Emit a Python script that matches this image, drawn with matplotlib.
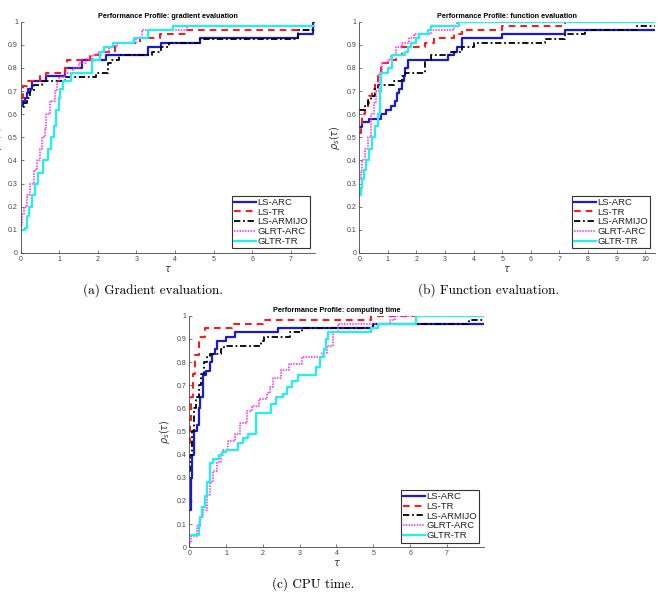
import matplotlib
matplotlib.use("Agg")
import matplotlib.pyplot as plt

# legend names
solvers = ["LS-ARC", "LS-TR", "LS-ARMIJO", "GLRT-ARC", "GLTR-TR"]

# (a) gradient evaluation
grad_tau_lsarc = [0, 0.05, 0.1, 0.15, 0.2, 0.3, 0.65, 1.15, 1.6, 2.2, 3.3, 3.65, 4.65, 7.2, 7.58, 7.63]
grad_rho_lsarc = [0.635, 0.655, 0.67, 0.69, 0.71, 0.745, 0.765, 0.8, 0.835, 0.855, 0.89, 0.91, 0.93, 0.945, 1.0, 1.0]
grad_tau_lstr = [0, 0.05, 0.15, 0.5, 0.65, 1.15, 1.2, 1.8, 2.1, 2.45, 3.1, 3.6, 4.3, 7.63]
grad_rho_lstr = [0.67, 0.72, 0.745, 0.765, 0.78, 0.8, 0.835, 0.855, 0.87, 0.91, 0.93, 0.945, 0.965, 0.965]
grad_tau_armijo = [0, 0.02, 0.08, 0.15, 0.25, 0.35, 0.55, 1.15, 1.95, 2.25, 2.35, 2.55, 3.4, 3.65, 3.85, 4.65, 7.2, 7.63]
grad_rho_armijo = [0.6, 0.63, 0.65, 0.67, 0.7, 0.725, 0.745, 0.76, 0.78, 0.82, 0.835, 0.855, 0.87, 0.89, 0.91, 0.925, 0.965, 0.965]
grad_tau_glrt = [0, 0.03, 0.08, 0.15, 0.25, 0.35, 0.42, 0.5, 0.55, 0.62, 0.65, 0.75, 0.9, 0.95, 1.0, 1.15, 1.35, 1.5, 1.7, 1.85, 2.0, 2.3, 2.5, 3.0, 3.15, 4.3, 7.63]
grad_rho_glrt = [0.12, 0.17, 0.2, 0.25, 0.3, 0.36, 0.4, 0.45, 0.5, 0.54, 0.6, 0.655, 0.7, 0.74, 0.76, 0.78, 0.8, 0.82, 0.84, 0.855, 0.87, 0.89, 0.91, 0.93, 0.965, 0.98, 0.98]
grad_tau_gltr = [0, 0.1, 0.15, 0.22, 0.3, 0.37, 0.45, 0.58, 0.7, 0.78, 0.85, 0.92, 0.98, 1.03, 1.1, 1.3, 1.85, 2.05, 2.15, 2.4, 2.95, 3.3, 3.95, 7.63]
grad_rho_gltr = [0.1, 0.11, 0.16, 0.2, 0.25, 0.3, 0.345, 0.4, 0.45, 0.5, 0.55, 0.62, 0.67, 0.71, 0.745, 0.78, 0.835, 0.87, 0.89, 0.91, 0.93, 0.965, 0.98, 0.98]

# (b) function evaluation
func_tau_lsarc = [0, 0.1, 0.35, 0.75, 0.95, 1.1, 1.25, 1.32, 1.4, 1.5, 1.55, 1.6, 1.7, 3.1, 3.3, 3.4, 3.6, 5.0, 7.2, 10.34]
func_rho_lsarc = [0.545, 0.565, 0.58, 0.6, 0.62, 0.635, 0.655, 0.69, 0.71, 0.745, 0.765, 0.8, 0.835, 0.855, 0.87, 0.89, 0.93, 0.945, 0.965, 0.965]
func_tau_lstr = [0, 0.05, 0.1, 0.2, 0.3, 0.35, 0.45, 0.55, 0.65, 0.75, 1.1, 1.3, 1.5, 2.3, 2.6, 3.3, 3.6, 5.0, 7.2, 10.34]
func_rho_lstr = [0.52, 0.55, 0.6, 0.62, 0.65, 0.68, 0.71, 0.745, 0.78, 0.82, 0.835, 0.855, 0.89, 0.91, 0.93, 0.945, 0.965, 0.98, 1.0, 1.0]
func_tau_armijo = [0, 0.2, 0.3, 0.4, 0.55, 0.65, 1.2, 1.5, 1.6, 2.3, 2.5, 3.2, 3.6, 4.0, 6.5, 7.2, 7.9, 9.7, 10.34]
func_rho_armijo = [0.62, 0.635, 0.66, 0.68, 0.71, 0.725, 0.745, 0.765, 0.78, 0.835, 0.855, 0.87, 0.89, 0.91, 0.925, 0.945, 0.965, 0.98, 0.98]
func_tau_glrt = [0, 0.05, 0.1, 0.2, 0.3, 0.4, 0.5, 0.6, 0.7, 0.8, 1.0, 1.1, 1.3, 1.5, 1.75, 1.9, 2.5, 3.3, 3.4, 10.34]
func_rho_glrt = [0.32, 0.35, 0.4, 0.45, 0.5, 0.6, 0.65, 0.7, 0.78, 0.82, 0.835, 0.855, 0.89, 0.91, 0.93, 0.945, 0.965, 0.98, 1.0, 1.0]
func_tau_gltr = [0, 0.05, 0.1, 0.18, 0.25, 0.35, 0.45, 0.55, 0.65, 0.72, 0.76, 1.0, 1.15, 1.6, 1.7, 1.8, 2.0, 2.1, 2.4, 2.5, 3.5, 10.34]
func_rho_gltr = [0.25, 0.28, 0.32, 0.36, 0.4, 0.45, 0.5, 0.55, 0.6, 0.7, 0.78, 0.8, 0.855, 0.87, 0.89, 0.91, 0.93, 0.945, 0.965, 0.98, 1.0, 1.0]

# (c) CPU time
cpu_tau_lsarc = [0, 0.04, 0.08, 0.13, 0.2, 0.25, 0.3, 0.38, 0.45, 0.55, 0.62, 0.7, 0.75, 1.0, 1.25, 2.4, 5.0, 8.01]
cpu_rho_lsarc = [0.16, 0.3, 0.4, 0.5, 0.53, 0.6, 0.65, 0.745, 0.76, 0.8, 0.835, 0.855, 0.89, 0.91, 0.93, 0.945, 0.965, 0.965]
cpu_tau_lstr = [0, 0.02, 0.05, 0.1, 0.15, 0.25, 0.43, 1.15, 2.0, 4.95, 8.01]
cpu_rho_lstr = [0.45, 0.55, 0.65, 0.75, 0.83, 0.91, 0.945, 0.965, 0.98, 1.0, 1.0]
cpu_tau_armijo = [0, 0.03, 0.07, 0.12, 0.18, 0.25, 0.33, 0.4, 0.47, 0.55, 0.85, 0.95, 1.95, 2.02, 2.75, 3.05, 5.0, 7.6, 8.01]
cpu_rho_armijo = [0.33, 0.4, 0.5, 0.6, 0.65, 0.7, 0.75, 0.8, 0.82, 0.835, 0.855, 0.87, 0.89, 0.91, 0.93, 0.945, 0.965, 0.98, 0.98]
cpu_tau_glrt = [0, 0.05, 0.2, 0.3, 0.38, 0.47, 0.55, 0.65, 0.74, 0.85, 0.92, 1.06, 1.24, 1.38, 1.56, 1.7, 1.9, 2.1, 2.2, 2.28, 2.5, 2.7, 3.05, 3.6, 3.75, 3.9, 4.05, 5.45, 5.6, 8.01]
cpu_rho_glrt = [0.02, 0.05, 0.09, 0.13, 0.16, 0.225, 0.28, 0.33, 0.37, 0.4, 0.42, 0.46, 0.49, 0.535, 0.59, 0.61, 0.64, 0.665, 0.69, 0.73, 0.765, 0.79, 0.82, 0.84, 0.87, 0.93, 0.965, 0.98, 1.0, 1.0]
cpu_tau_gltr = [0, 0.25, 0.3, 0.35, 0.42, 0.48, 0.55, 0.65, 0.8, 0.88, 1.0, 1.33, 1.47, 1.6, 1.82, 2.22, 2.35, 2.55, 2.65, 2.8, 2.95, 3.45, 3.55, 3.65, 3.72, 3.78, 4.95, 5.12, 6.15, 8.01]
cpu_rho_gltr = [0.055, 0.1, 0.13, 0.175, 0.22, 0.28, 0.365, 0.38, 0.4, 0.41, 0.42, 0.45, 0.47, 0.49, 0.58, 0.62, 0.65, 0.66, 0.69, 0.72, 0.745, 0.78, 0.82, 0.855, 0.9, 0.93, 0.945, 0.965, 1.0, 1.0]

styles = [
    dict(color="#1a1ad0", ls="-", lw=1.6),
    dict(color="#ff1a1a", ls=(0, (3.2, 2.4)), lw=1.5),
    dict(color="black", ls=(0, (3.5, 1.5, 1, 1.5)), lw=1.3),
    dict(color="#ff22ff", ls=(0, (1, 0.8)), lw=1.1),
    dict(color="#22f0f0", ls="-", lw=1.6),
]

plt.rcParams["font.family"] = ["Liberation Sans", "DejaVu Sans"]


def profile_axes(ax, curves, title, xmax, xticks):
    for (tau, rho), name, st in zip(curves, solvers, styles):
        ax.step(tau, rho, where="post", label=name, **st)
    ax.set_xlim(0, xmax)
    ax.set_ylim(0, 1)
    ax.set_xticks(xticks)
    ax.set_yticks([i / 10 for i in range(11)])
    ax.set_yticklabels(["0"] + ["0.%d" % i for i in range(1, 10)] + ["1"])
    ax.tick_params(direction="in", length=2.5, width=0.5, labelsize=5, colors="#444444", pad=2)
    for s in ["top", "right"]:
        ax.spines[s].set_visible(False)
    for s in ["left", "bottom"]:
        ax.spines[s].set_linewidth(0.6)
        ax.spines[s].set_color("#444444")
    ax.set_title(title, fontsize=5.2, fontweight="bold", pad=3)
    ax.set_xlabel(r"$\tau$", fontsize=7, labelpad=1, color="#333333")
    ax.set_ylabel(r"$\rho_s(\tau)$", fontsize=7, labelpad=3, color="#333333")
    leg = ax.legend(loc="lower right", fontsize=6.8, fancybox=False, framealpha=1,
                    handlelength=2.3, borderpad=0.25, labelspacing=0.08,
                    handletextpad=0.15, borderaxespad=0.5)
    leg.get_frame().set_edgecolor("#333333")
    leg.get_frame().set_linewidth(0.8)
    for t in leg.get_texts():
        t.set_color("#222222")


fig = plt.figure(figsize=(6.58, 5.93), dpi=100)
ax_a = fig.add_axes([0.0315, 0.5734, 0.4472, 0.3900])
ax_b = fig.add_axes([0.5460, 0.5734, 0.4494, 0.3900])
ax_c = fig.add_axes([0.2877, 0.0771, 0.4479, 0.3905])

profile_axes(ax_a, [(grad_tau_lsarc, grad_rho_lsarc), (grad_tau_lstr, grad_rho_lstr),
                    (grad_tau_armijo, grad_rho_armijo), (grad_tau_glrt, grad_rho_glrt),
                    (grad_tau_gltr, grad_rho_gltr)],
             "Performance Profile: gradient evaluation", 7.63, range(8))
profile_axes(ax_b, [(func_tau_lsarc, func_rho_lsarc), (func_tau_lstr, func_rho_lstr),
                    (func_tau_armijo, func_rho_armijo), (func_tau_glrt, func_rho_glrt),
                    (func_tau_gltr, func_rho_gltr)],
             "Performance Profile: function evaluation", 10.34, range(11))
profile_axes(ax_c, [(cpu_tau_lsarc, cpu_rho_lsarc), (cpu_tau_lstr, cpu_rho_lstr),
                    (cpu_tau_armijo, cpu_rho_armijo), (cpu_tau_glrt, cpu_rho_glrt),
                    (cpu_tau_gltr, cpu_rho_gltr)],
             "Performance Profile: computing time", 8.01, range(8))

# subfigure captions
fig.text(0.233, 0.511, "(a) Gradient evaluation.", family="cmr10", fontsize=9.5, ha="center", va="center")
fig.text(0.742, 0.511, "(b) Function evaluation.", family="cmr10", fontsize=9.5, ha="center", va="center")
fig.text(0.476, 0.015, "(c) CPU time.", family="cmr10", fontsize=9.5, ha="center", va="center")

fig.savefig("out.png", dpi=100)
